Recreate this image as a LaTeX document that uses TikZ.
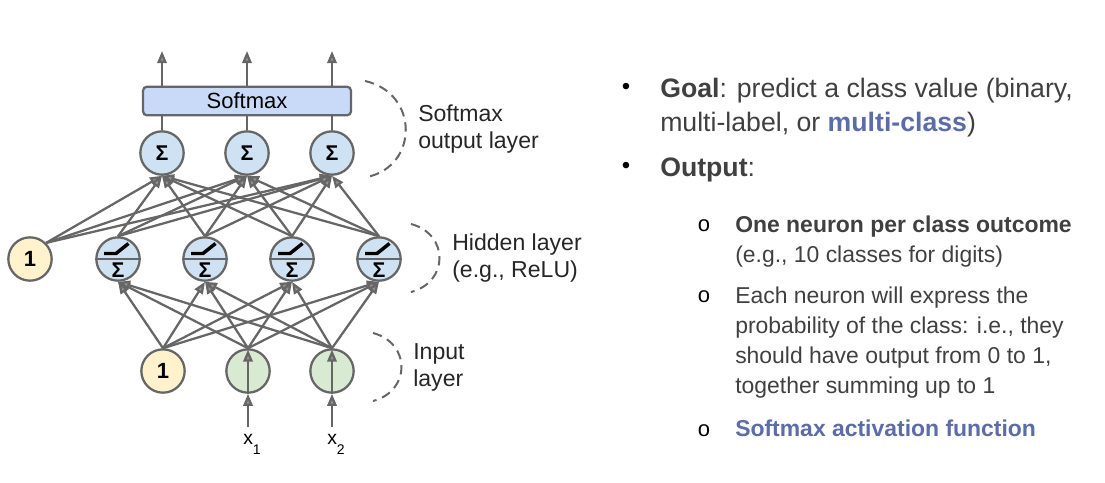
\documentclass[tikz,border=0pt]{standalone}
\usepackage{fontspec}
\setmainfont{Liberation Sans}
\usepackage{tikz}
\usetikzlibrary{arrows.meta,calc,positioning}
\definecolor{linegray}{HTML}{666666}
\definecolor{hidblue}{HTML}{CFE2F3}
\definecolor{biasyellow}{HTML}{FFF2CC}
\definecolor{inpgreen}{HTML}{D9EAD3}
\definecolor{boxblue}{HTML}{C9DAF8}
\definecolor{txtgray}{HTML}{404040}
\definecolor{keyblue}{HTML}{5B6CA8}
\tikzset{
  neuron/.style={circle, draw=linegray, line width=1.7pt, minimum size=32.5pt, inner sep=0pt},
  conn/.style={draw=linegray, line width=1.7pt, -{Triangle[length=9pt,width=7pt,fill=linegray!70]}},
  plain/.style={draw=linegray, line width=1.7pt},
  arc/.style={draw=linegray, line width=1.5pt, dash pattern=on 7pt off 4.5pt},
  sigma/.style={font=\bfseries\fontsize{16}{16}\selectfont, inner sep=0pt},
  one/.style={font=\bfseries\fontsize{16.5}{16.5}\selectfont},
  layerlabel/.style={anchor=west, align=left, inner sep=0pt, text=black!85,
    font=\fontsize{17.3}{20.3}\selectfont},
  xlabel/.style={anchor=north, inner xsep=0pt, inner ysep=5.25pt, font=\fontsize{14.5}{14.5}\selectfont},
  mainbul/.style={inner sep=0pt, text=black, font=\fontsize{18}{18}\selectfont},
  maintxt/.style={anchor=base west, inner sep=0pt, text=txtgray, font=\fontsize{20}{22}\selectfont},
  subbul/.style={inner sep=0pt, text=black, font=\fontsize{16.5}{16.5}\selectfont},
  subtxt/.style={anchor=base west, inner sep=0pt, text=txtgray, font=\fontsize{17.2}{20}\selectfont},
}
\begin{document}
\begin{tikzpicture}[x=0.75pt, y=-0.75pt]
\useasboundingbox (0,0) rectangle (1105,482);

% input layer
\node[neuron, fill=biasyellow, one] (ib) at (163,371) {1};
\node[neuron, fill=inpgreen] (i1) at (248,371) {};
\node[neuron, fill=inpgreen] (i2) at (332,371) {};
\node[xlabel] (x1) at (252,427) {x\raisebox{-7.5pt}{\fontsize{10.5}{10.5}\selectfont 1}};
\node[xlabel] (x2) at (336,427) {x\raisebox{-7.5pt}{\fontsize{10.5}{10.5}\selectfont 2}};
\foreach \i/\x in {i1/x1,i2/x2}{
  \draw[conn] (\i |- \x.north) -- (\i.south);
  \draw[conn, shorten >=1pt] (\i.south) -- (\i.north);
}

% hidden layer
\node[neuron, fill=biasyellow, one] (hb) at (30,259) {1};
\foreach \k/\x in {1/118,2/205,3/292,4/379}{
  \node[neuron, fill=hidblue] (h\k) at (\x,259) {};
  \draw[plain] (h\k.west) -- (h\k.east);
  \draw[line width=2.6pt] ($(h\k)+(-14,-5.5)$) -- ++(12,0) -- ++(12.5,-10);
  \node[sigma] at ($(h\k)+(0,11)$) {Σ};
}

% output layer
\node[draw=linegray, fill=boxblue, rounded corners=3pt, line width=1.7pt,
  minimum width=156pt, minimum height=21.5pt, inner sep=0pt,
  font=\fontsize{16.5}{16.5}\selectfont] (smax) at (247,101) {Softmax};
\coordinate (top) at (247,51);
\foreach \k/\x in {1/162,2/247,3/332}{
  \node[neuron, fill=hidblue] (o\k) at (\x,153) {};
  \node[sigma] at (o\k) {Σ};
  \draw[plain] (o\k.north) -- (o\k |- smax.south);
  \draw[conn] (o\k |- smax.north) -- (o\k |- top);
}

% connections
\foreach \a in {ib,i1,i2}
  \foreach \b in {h1,h2,h3,h4}
    \draw[conn] (\a.north) -- (\b.south);
\foreach \b in {o1,o2,o3}
  \draw[conn] (hb.north east) -- (\b.south);
\foreach \a in {h1,h2,h3,h4}
  \foreach \b in {o1,o2,o3}
    \draw[conn] (\a.north) -- (\b.south);

% layer labels
\draw[arc] (365,81) .. controls (419,93) and (419,166) .. (367,177);
\node[layerlabel] (lout) at (418,129) {Softmax\\output layer};
\draw[arc] (411,224) .. controls (449,234) and (449,282) .. (411,292);
\node[layerlabel] (lhid) at (452,258) {Hidden layer\\(e.g., ReLU)};
\draw[arc] (373,333) .. controls (411,343) and (411,391) .. (373,401);
\node[layerlabel] (linp) at (413,367) {Input\\layer};

% bullets
\node[mainbul] (b1) at (626,89) {•};
\node[maintxt] (g1) at (660,97) {\textbf{Goal}: predict a class value (binary,};
\node[maintxt] (g2) at (660,131) {multi-label, or \textbf{\color{keyblue}multi-class})};
\node[mainbul] (b2) at (626,168) {•};
\node[maintxt] (op) at (660,176) {\textbf{Output}:};

\node[subbul] (s1) at (704,226) {o};
\node[subtxt] (t1) at (735,232) {\textbf{One neuron per class outcome}};
\node[subtxt] (t2) at (735,262) {(e.g., 10 classes for digits)};
\node[subbul] (s2) at (704,297) {o};
\foreach \t [count=\k from 0] in {Each neuron will express the, {probability of the class: i.e., they}, {should have output from 0 to 1,}, together summing up to 1}
  \node[subtxt] at (735,303+30*\k) {\t};
\node[subbul] (s3) at (704,431) {o};
\node[subtxt, text=keyblue] (t3) at (735,436) {\textbf{Softmax activation function}};
\end{tikzpicture}
\end{document}
